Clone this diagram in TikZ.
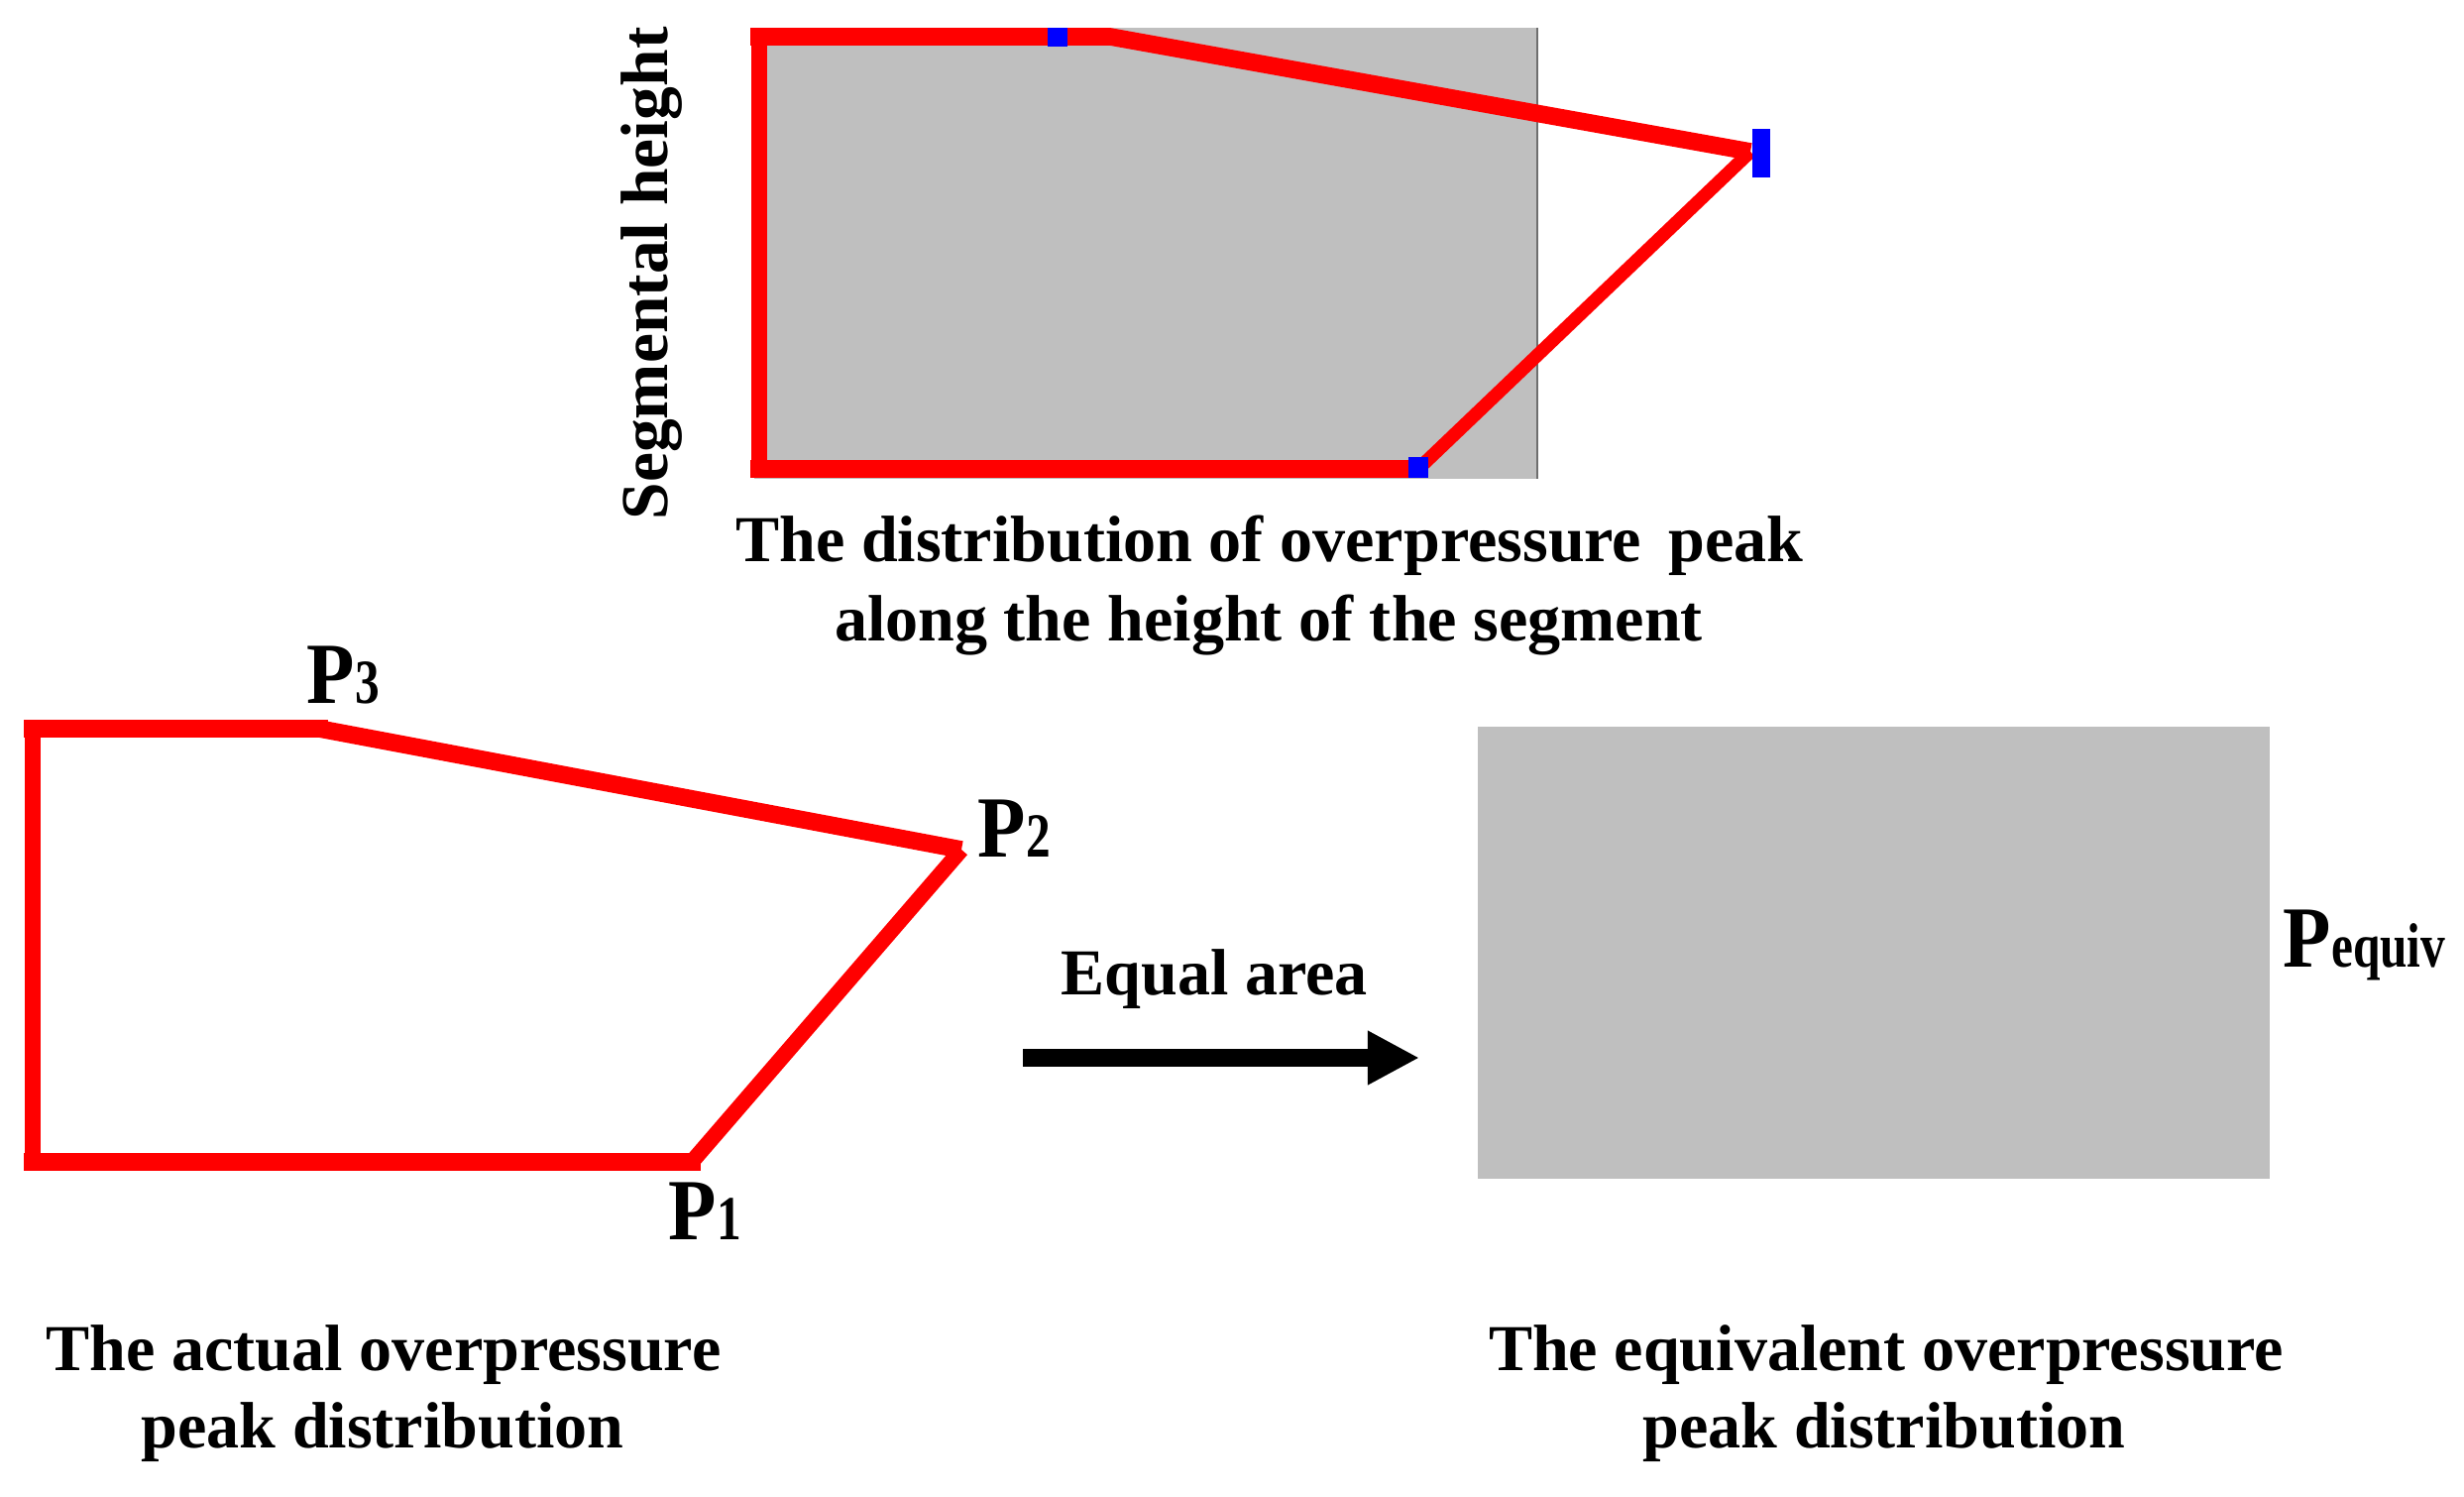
\documentclass[tikz,border=0pt]{standalone}
\usepackage{fontspec}
\setmainfont{Liberation Serif}
\usepackage{graphicx}
\usetikzlibrary{arrows.meta}
\definecolor{areagray}{RGB}{191,191,191}
\definecolor{edgegray}{RGB}{110,110,110}
\newcommand\plab[1]{\scalebox{0.9}[1]{\fontsize{25}{25}\selectfont\bfseries P}\scalebox{0.78}[1]{\fontsize{18}{18}\selectfont\bfseries #1}}
\begin{document}
\begin{tikzpicture}[x=0.01cm,y=-0.01cm,
  captext/.style={inner sep=0pt, anchor=base, font=\fontsize{18.8}{22}\selectfont\bfseries},
  plabel/.style={inner sep=0pt, anchor=base west},
  redthick/.style={draw=red, line width=5pt, line join=miter, line cap=rect},
  reddiag/.style={draw=red, line width=5pt, line join=miter},
  redthin/.style={draw=red, line width=3.8pt, line join=miter},
  marker/.style={fill=blue, draw=none},
  bigarrow/.style={line width=5.1pt, -{Triangle[length=14.8pt,width=14.5pt]}}
  ]
\useasboundingbox (0,0) rectangle (2486,1510);
% ---------- top figure ----------
\fill[areagray] (761,28) rectangle (1551,483);
\draw[edgegray, line width=0.6pt] (1551,28) -- (1551,483);
\coordinate (tTL) at (766,37);
\coordinate (tBL) at (766,473);
\coordinate (tM3) at (1067,37);
\coordinate (tK) at (1120,37);
\coordinate (tM2) at (1766,153);
\coordinate (tM1) at (1431,473);
\draw[redthick, line width=4.5pt] (tTL) -- (tBL);
\draw[redthick] (tTL) -- (tM3);
\draw[redthick] (tBL) -- (tM1);
\draw[reddiag] (tM3) -- (tK) -- (tM2);
\draw[redthin] (tM2) -- (tM1);
\fill[marker] (1057,28) rectangle (1077,47);
\fill[marker] (1768,130) rectangle (1786,179);
\fill[marker] (1421,461) rectangle (1441,482);
\node[inner sep=0pt, anchor=base, rotate=90, font=\fontsize{19.2}{22}\selectfont\bfseries] (seg) at (673,276) {Segmental height};
\node[captext] (topcap1) at (1281,567) {The distribution of overpressure\, peak};
\node[captext] (topcap2) at (1280,647) {along the height of the segment};
% ---------- bottom left: actual distribution ----------
\coordinate (bTL) at (33,735);
\coordinate (bP3) at (322,735);
\coordinate (bP2) at (970,857);
\coordinate (bP1) at (698,1172);
\coordinate (bBL) at (33,1172);
\draw[redthick, line width=4.3pt] (bTL) -- (bBL);
\draw[redthick] (bTL) -- (bP3);
\draw[redthick] (bBL) -- (bP1);
\draw[reddiag] (bP3) -- (bP2);
\draw[reddiag, line width=4.5pt] (bP2) -- (bP1);
\node[plabel] (p3) at (309,709) {\plab{3}};
\node[plabel] (p2) at (986,864) {\plab{2}};
\node[plabel] (p1) at (674,1250) {\plab{1}};
\node[captext] (lcap1) at (387,1382) {The actual overpressure};
\node[captext] (lcap2) at (386,1460) {peak distribution};
% ---------- arrow ----------
\coordinate (aS) at (1032,1067);
\coordinate (aE) at (1432,1067);
\draw[bigarrow] (aS) -- (aE);
\node[captext] (eq) at (1225,1003) {Equal area};
% ---------- bottom right: equivalent ----------
\node[fill=areagray, draw=none, inner sep=0pt, minimum width=7.99cm, minimum height=4.56cm, anchor=north west] (equiv) at (1490,732) {};
\node[plabel] (peq) at (2303,975) {\plab{equiv}};
\node[captext] (rcap1) at (1903,1382) {The equivalent overpressure};
\node[captext] (rcap2) at (1901,1460) {peak distribution};
\end{tikzpicture}
\end{document}
